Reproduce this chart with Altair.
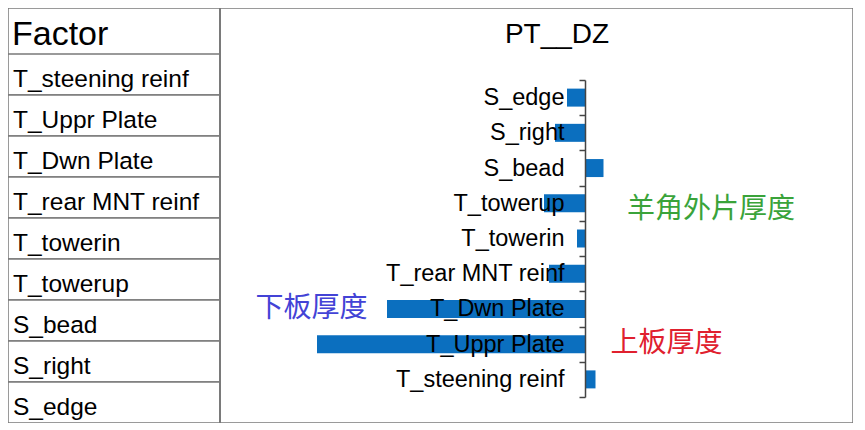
import altair as alt
import pandas as pd

# ---- data ----
header = "Factor"
title_text = "PT__DZ"
table_factors = ["T_steening reinf", "T_Uppr Plate", "T_Dwn Plate", "T_rear MNT reinf",
                 "T_towerin", "T_towerup", "S_bead", "S_right", "S_edge"]
bar_factors = ["S_edge", "S_right", "S_bead", "T_towerup", "T_towerin",
               "T_rear MNT reinf", "T_Dwn Plate", "T_Uppr Plate", "T_steening reinf"]
bar_values = [-0.18, -0.30, 0.185, -0.41, -0.08, -0.36, -1.98, -2.68, 0.105]
note_texts = ["羊角外片厚度", "下板厚度", "上板厚度"]
note_factors = ["T_towerup", "T_Dwn Plate", "T_Uppr Plate"]
note_x = [1.26, -2.735, 0.815]
note_colors = ["#3aa33a", "#4343d6", "#e0202e"]

W, H = 845, 415
FONT = "Liberation Sans"
LINE = "#7a7a7a"

table_df = pd.DataFrame({"row": table_factors})
bars_df = pd.DataFrame({"factor": bar_factors, "value": bar_values})
notes_df = pd.DataFrame({"factor": note_factors, "x": note_x, "text": note_texts, "color": note_colors})
one = pd.DataFrame({"h": [header], "t": [title_text]})

# ---- frame + table (left) ----
frame = alt.Chart(one).mark_rect(fill="white", stroke=LINE, strokeWidth=1.5).encode(
    x=alt.value(0), x2=alt.value(W), y=alt.value(0), y2=alt.value(H))
row_y = alt.Y("row:N", sort=table_factors, axis=None,
              scale=alt.Scale(range=[46, H], paddingInner=0, paddingOuter=0))
table_rects = alt.Chart(table_df).mark_rect(fill="white", stroke=LINE, strokeWidth=1.5).encode(
    y=row_y, x=alt.value(0), x2=alt.value(212))
table_text = alt.Chart(table_df).mark_text(
    align="left", baseline="alphabetic", dy=12, font=FONT, fontSize=24.5, color="black"
).encode(y=row_y, x=alt.value(5), text="row:N")
header_text = alt.Chart(one).mark_text(
    align="left", baseline="alphabetic", font=FONT, fontSize=34, color="black"
).encode(x=alt.value(4), y=alt.value(37), text="h:N")
divider = alt.Chart(one).mark_rule(color=LINE, strokeWidth=2).encode(
    x=alt.value(212), y=alt.value(0), y2=alt.value(H))
title = alt.Chart(one).mark_text(
    align="center", baseline="alphabetic", font=FONT, fontSize=28, color="black"
).encode(x=alt.value(549), y=alt.value(35), text="t:N")

# ---- bars (right) ----
x_scale = alt.Scale(domain=[-5.77, 2.68], nice=False, zero=False)
bar_y_scale = alt.Scale(domain=bar_factors, range=[72, 389], paddingInner=0, paddingOuter=0)
bars = alt.Chart(bars_df).mark_bar(color="#0b6fbf", size=18).encode(
    x=alt.X("value:Q", scale=x_scale, axis=None),
    x2=alt.datum(0),
    y=alt.Y("factor:N", sort=bar_factors, scale=bar_y_scale,
            axis=alt.Axis(orient="left", offset=-577, tickBand="extent", title=None,
                          labelFontSize=23.5, labelFont=FONT, labelColor="black",
                          labelPadding=15, tickSize=6, tickColor="#444", tickWidth=1.5,
                          domainColor="#444", domainWidth=1.5, grid=False,
                          labelLimit=400, zindex=1)),
)
notes_top = alt.Chart(notes_df.iloc[:1]).mark_text(
    align="center", baseline="middle", font="Noto Sans CJK SC", fontSize=28, dy=7
).encode(
    x=alt.X("x:Q", scale=x_scale, axis=None),
    y=alt.Y("factor:N", sort=bar_factors, scale=bar_y_scale),
    text="text:N",
    color=alt.Color("color:N", scale=None),
)
notes_rest = alt.Chart(notes_df.iloc[1:]).mark_text(
    align="center", baseline="middle", font="Noto Sans CJK SC", fontSize=28
).encode(
    x=alt.X("x:Q", scale=x_scale, axis=None),
    y=alt.Y("factor:N", sort=bar_factors, scale=bar_y_scale),
    text="text:N",
    color=alt.Color("color:N", scale=None),
)
right = alt.layer(bars, notes_top, notes_rest)

chart = alt.layer(frame, table_rects, table_text, header_text, divider, title, right).resolve_scale(
    y="independent"
).properties(
    width=W, height=H, autosize=alt.AutoSizeParams(type="none"),
    padding={"left": 0, "top": 0, "right": 0, "bottom": 0},
).configure_view(stroke=None).configure(background="white")

chart.save("out.html", embed_options={"renderer": "svg", "actions": False})
